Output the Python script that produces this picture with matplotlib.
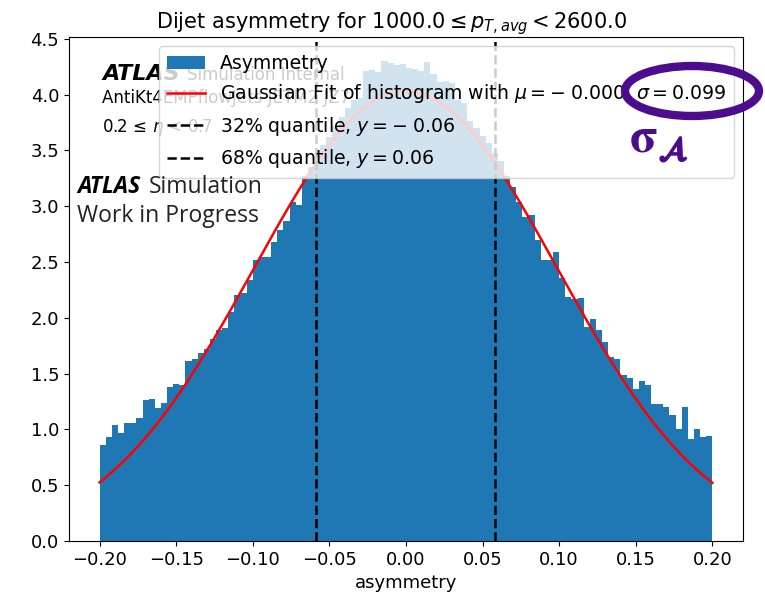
import numpy as np
import matplotlib
matplotlib.use("Agg")
import matplotlib.pyplot as plt
import matplotlib.patheffects as pe
from matplotlib.patches import Ellipse
from matplotlib.ticker import MultipleLocator

# normalised bin contents, 100 equal bins on [-0.2, 0.2]
left_tail = [0.86, 0.93, 1.04, 0.97, 1.06, 1.06, 1.10, 1.26, 1.27, 1.19,
             1.24, 1.38, 1.41, 1.40, 1.61, 1.63, 1.68, 1.72, 1.81, 1.89,
             1.91, 2.05, 2.20, 2.22, 2.34, 2.52, 2.54, 2.54, 2.68, 2.79,
             2.87, 3.04, 3.01, 3.27, 3.35]
core = [3.45, 3.55, 3.62, 3.72, 3.80, 3.88, 3.95, 3.97, 4.21, 4.22,
        4.20, 4.30, 4.28, 4.26, 4.27, 4.24, 4.23, 4.21, 4.29, 4.18,
        4.11, 4.12, 4.10, 3.95, 3.92, 3.76, 3.70, 3.63, 3.57, 3.48]
right_tail = [3.40, 3.27, 3.17, 3.04, 2.90, 2.92, 2.70, 2.52, 2.52, 2.59,
              2.36, 2.19, 2.17, 2.18, 1.92, 1.99, 1.89, 1.78, 1.65, 1.63,
              1.49, 1.46, 1.36, 1.43, 1.40, 1.23, 1.23, 1.20, 1.13, 1.00,
              1.20, 0.91, 1.00, 0.93, 0.94]
density = left_tail + core + right_tail
bin_range = (-0.2, 0.2)

# fit result and quantiles
mu = -0.0002
sigma = 0.099
q32 = -0.0587
q68 = 0.0583

PURPLE = "#4b0d8e"


def num(v, nd):
    # old mathtext look: binary minus with a gap after it
    s = f"{abs(v):.{nd}f}"
    return r"-\;" + s if v < 0 else s


fig = plt.figure(figsize=(7.65, 6.01), dpi=100)
ax = fig.add_axes([0.0902, 0.0998, 0.881, 0.8386])

edges = np.linspace(bin_range[0], bin_range[1], len(density) + 1)
ax.hist(edges[:-1], bins=edges, weights=density, color="C0", label="Asymmetry")

xs = np.linspace(bin_range[0], bin_range[1], 400)
gauss = np.exp(-0.5 * ((xs - mu) / sigma) ** 2) / (sigma * np.sqrt(2 * np.pi))
ax.plot(xs, gauss, color="red", lw=1.8,
        label=f"Gaussian Fit of histogram with $\\mu = {num(mu, 3)}$, $\\sigma = {sigma:.3f}$")
ax.axvline(q32, color="black", ls="--", lw=1.8, label=f"32% quantile, $y = {num(q32, 2)}$")
ax.axvline(q68, color="black", ls="--", lw=1.8, label=f"68% quantile, $y = {num(q68, 2)}$")

ax.set_title(r"Dijet asymmetry for $1000.0 \leq p_{T,avg} < 2600.0$", fontsize=15, x=0.479)
ax.set_xlabel("asymmetry", fontsize=13)
ax.yaxis.set_major_locator(MultipleLocator(0.5))
ax.tick_params(labelsize=13)

# old ATLAS label, sits behind the legend
ax.text(0.049, 0.915, "ATLAS", transform=ax.transAxes, fontsize=16, fontweight="bold",
        style="italic", va="baseline")
ax.text(0.175, 0.915, "Simulation Internal", transform=ax.transAxes, fontsize=12, va="baseline")
ax.text(0.049, 0.869, "AntiKt4EMPflowJets JETM2 JZ7", transform=ax.transAxes, fontsize=12,
        va="baseline")
ax.text(0.049, 0.8115, r"0.2 ≤ $\eta$ < 0.7", transform=ax.transAxes, fontsize=12,
        va="baseline")

ax.legend(loc="upper right", fontsize=13.6)

# overlay label
fig.text(0.1007, 0.679, "ATLAS", family="Open Sans", fontsize=16.5, fontweight="bold",
         style="italic", va="baseline")
fig.text(0.195, 0.679, "Simulation", family="Open Sans", fontsize=16.5, color="#222222",
         va="baseline")
fig.text(0.1007, 0.6306, "Work in Progress", family="Open Sans", fontsize=16.5,
         color="#222222", va="baseline")

# highlight of sigma
fig.add_artist(Ellipse((692 / 765, 1 - 91 / 601), 134 / 765, 50 / 601,
                       transform=fig.transFigure, fill=False, lw=6,
                       edgecolor=PURPLE, clip_on=False))
fig.text(630 / 765, 1 - 152 / 601, "\U0001D6D4", family="STIXGeneral", fontweight="bold",
         color=PURPLE, fontsize=36, va="baseline")
fig.text(659 / 765, 1 - 160 / 601, r"$\mathcal{A}$", math_fontfamily="stix",
         color=PURPLE, fontsize=24, va="baseline",
         path_effects=[pe.withStroke(linewidth=1.6, foreground=PURPLE)])

fig.savefig("out.png", dpi=100)
